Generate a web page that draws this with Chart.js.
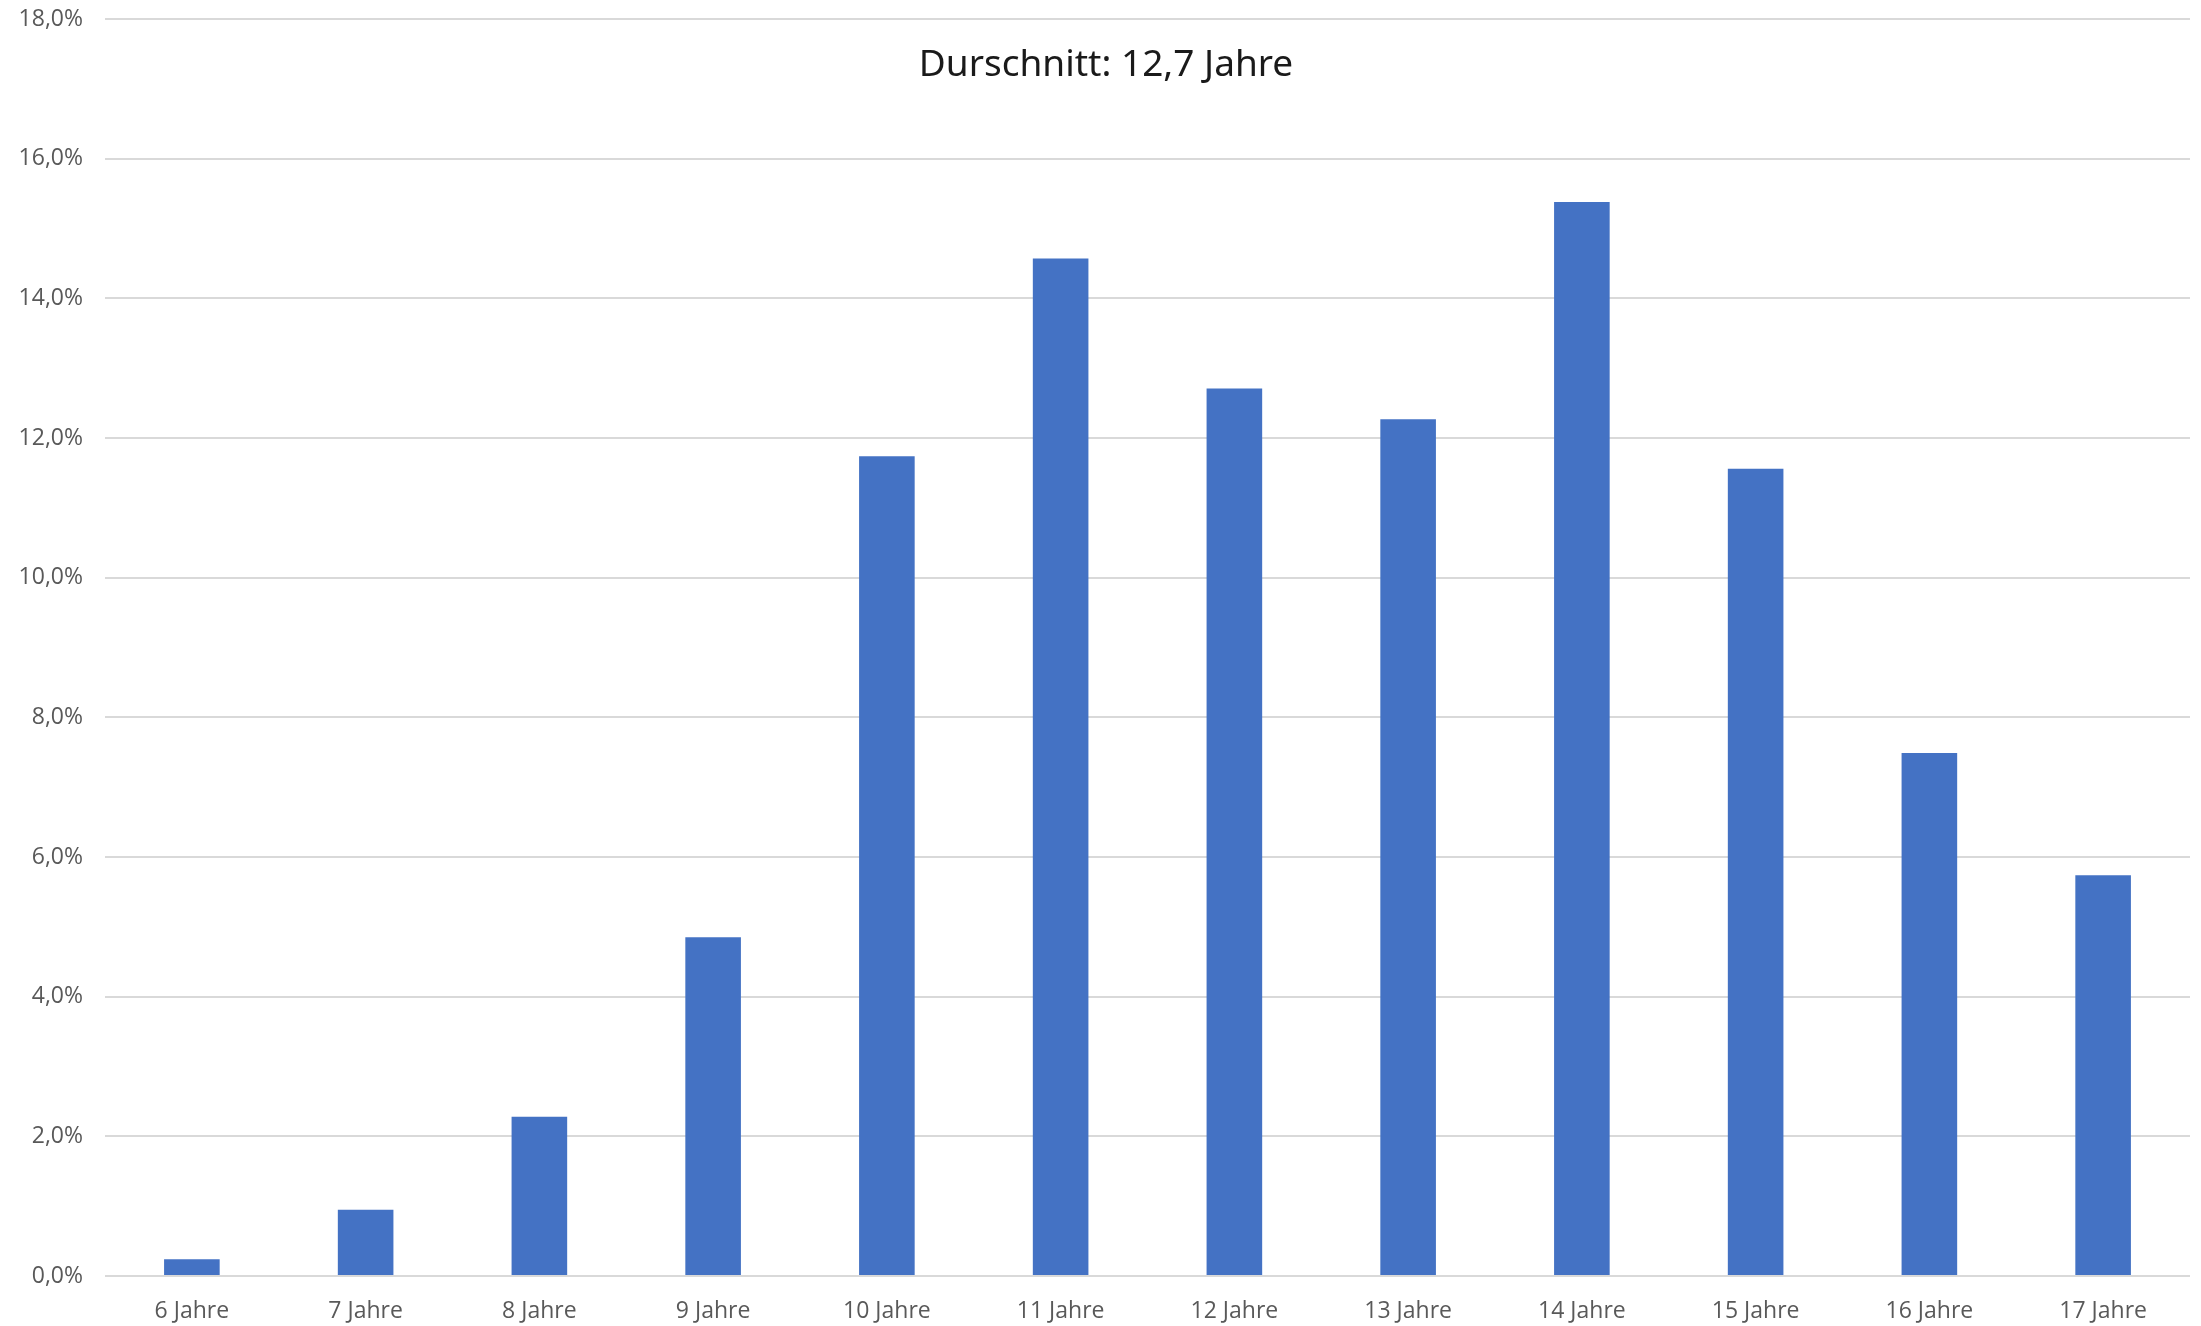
<!DOCTYPE html>
<html>
<head>
<meta charset="utf-8">
<script src="https://cdn.jsdelivr.net/npm/chart.js@4.4.1/dist/chart.umd.min.js"></script>
<style>
    html, body { margin: 0; padding: 0; background: #ffffff; }
    #wrap { width: 2201px; height: 1326px; }
</style>
</head>
<body>
<div id="wrap"><canvas id="ageChart" width="2201" height="1326"></canvas></div>
<script>
// Chart data
const ageLabels = ['6 Jahre', '7 Jahre', '8 Jahre', '9 Jahre', '10 Jahre', '11 Jahre',
    '12 Jahre', '13 Jahre', '14 Jahre', '15 Jahre', '16 Jahre', '17 Jahre'];
const shareValues = [0.24, 0.95, 2.28, 4.85, 11.74, 14.57, 12.71, 12.27, 15.38, 11.56, 7.49, 5.74];
const yTicks = [0, 2, 4, 6, 8, 10, 12, 14, 16, 18];
const chartTitle = 'Durschnitt: 12,7 Jahre';

// Title sits inside the plot area, so draw it by hand
const innerTitle = {
    id: 'innerTitle',
    afterDraw(chart) {
        const ctx = chart.ctx;
        const area = chart.chartArea;
        ctx.save();
        ctx.font = '37px "Noto Sans", sans-serif';
        ctx.fillStyle = '#1a1a1a';
        ctx.textAlign = 'center';
        ctx.textBaseline = 'middle';
        ctx.fillText(chartTitle, 1106, area.top + 46);
        ctx.restore();
    }
};

const ctx = document.getElementById('ageChart').getContext('2d');
new Chart(ctx, {
    type: 'bar',
    data: {
        labels: ageLabels,
        datasets: [{
            data: shareValues,
            backgroundColor: '#4472C4',
            borderWidth: 0,
            barPercentage: 0.32,
            categoryPercentage: 1.0
        }]
    },
    options: {
        responsive: false,
        animation: false,
        layout: { padding: { top: 19, right: 11, left: 0, bottom: 0 } },
        plugins: {
            legend: { display: false },
            tooltip: { enabled: false }
        },
        scales: {
            x: {
                grid: { display: false, drawTicks: false },
                border: { display: false },
                ticks: {
                    color: '#595959',
                    font: { family: '"Open Sans", sans-serif', size: 23 },
                    padding: 22,
                    maxRotation: 0
                },
                afterFit(scale) {
                    scale.height = 50;
                    scale.paddingLeft = 0;
                    scale.paddingRight = 0;
                }
            },
            y: {
                min: 0,
                max: 18,
                afterBuildTicks(scale) {
                    scale.ticks = yTicks.map(v => ({ value: v }));
                },
                grid: { color: '#d9d9d9', lineWidth: 2, drawTicks: false },
                border: { display: false },
                ticks: {
                    color: '#595959',
                    font: { family: '"Open Sans", sans-serif', size: 23 },
                    padding: 22,
                    callback: v => v.toFixed(1).replace('.', ',') + '%'
                },
                afterFit(scale) {
                    scale.width = 105;
                    scale.paddingTop = 0;
                    scale.paddingBottom = 0;
                }
            }
        }
    },
    plugins: [innerTitle]
});
</script>
</body>
</html>
